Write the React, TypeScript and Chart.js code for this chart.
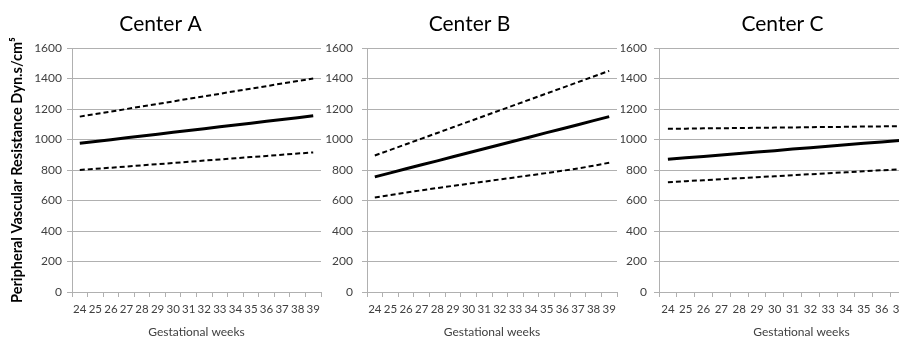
import React, { useEffect, useRef } from 'react';
import { Chart, registerables } from 'chart.js';

Chart.register(...registerables);

const weeks = ['24', '25', '26', '27', '28', '29', '30', '31', '32', '33', '34', '35', '36', '37', '38', '39'];
const yTicks = [0, 200, 400, 600, 800, 1000, 1200, 1400, 1600];

const centerAMean = [975, 987, 999, 1011, 1023, 1035, 1047, 1059, 1071, 1083, 1095, 1107, 1119, 1131, 1143, 1155];
const centerAUpper = [1150, 1167, 1183, 1200, 1217, 1233, 1250, 1267, 1283, 1300, 1317, 1333, 1350, 1367, 1383, 1400];
const centerALower = [800, 808, 815, 823, 831, 838, 846, 854, 862, 869, 877, 885, 892, 900, 908, 915];

const centerBMean = [755, 781, 808, 834, 860, 887, 913, 939, 966, 992, 1018, 1045, 1071, 1097, 1124, 1150];
const centerBUpper = [895, 932, 969, 1006, 1043, 1080, 1117, 1154, 1191, 1228, 1265, 1302, 1339, 1376, 1413, 1450];
const centerBLower = [620, 636, 652, 667, 682, 696, 710, 724, 738, 752, 766, 780, 795, 810, 828, 848];

const centerCMean = [870, 880, 889, 899, 908, 918, 927, 937, 946, 956, 965, 975, 984, 994, 1003, 1013];
const centerCUpper = [1070, 1071, 1073, 1074, 1075, 1077, 1078, 1079, 1081, 1082, 1083, 1085, 1086, 1087, 1089, 1090];
const centerCLower = [720, 727, 733, 740, 746, 753, 759, 766, 772, 779, 785, 792, 798, 805, 811, 818];

const FONT = 'Lato, "Open Sans", "Noto Sans", sans-serif';
const GRID = '#b0b0b0';

type PanelProps = {
  title: string;
  mean: number[];
  upper: number[];
  lower: number[];
  left: number;
  width: number;
  yWidth: number;
  rightPad: number;
  yLabelPad: number;
  yTitle?: string;
};

function Panel(p: PanelProps) {
  const ref = useRef<HTMLCanvasElement | null>(null);
  useEffect(() => {
    if (!ref.current) return;
    const dashed = { borderColor: '#000', borderWidth: 2, borderDash: [5, 3], pointRadius: 0, fill: false, tension: 0 };
    const chart = new Chart(ref.current, {
      type: 'line',
      data: {
        labels: weeks,
        datasets: [
          { label: 'upper', data: p.upper, ...dashed },
          { label: 'mean', data: p.mean, borderColor: '#000', borderWidth: 3, pointRadius: 0, fill: false, tension: 0 },
          { label: 'lower', data: p.lower, ...dashed },
        ],
      },
      options: {
        animation: false,
        responsive: false,
        layout: { padding: { left: 0, right: p.rightPad, top: 0, bottom: 0 } },
        plugins: {
          legend: { display: false },
          tooltip: { enabled: false },
          title: {
            display: true,
            text: p.title,
            color: '#000',
            font: { family: FONT, size: 21, weight: 'normal', lineHeight: 1.2 },
            padding: { top: 11.4, bottom: 11.4 },
          },
        },
        scales: {
          x: {
            type: 'category',
            offset: true,
            grid: { display: true, drawOnChartArea: false, drawTicks: true, tickLength: 5, offset: true, color: GRID },
            border: { display: true, color: GRID, width: 1 },
            ticks: {
              autoSkip: false,
              maxRotation: 0,
              minRotation: 0,
              padding: 5,
              color: '#404040',
              font: { family: FONT, size: 11.5 },
            },
            title: {
              display: true,
              text: 'Gestational weeks',
              color: '#404040',
              font: { family: FONT, size: 12, lineHeight: 1 },
              padding: { top: 0, bottom: 0 },
            },
            afterFit: (s: any) => { s.height = 46; },
          },
          y: {
            min: 0,
            max: 1600,
            afterBuildTicks: (s: any) => { s.ticks = yTicks.map((v) => ({ value: v })); },
            grid: { color: GRID, tickLength: 5, drawTicks: true },
            border: { display: true, color: GRID, width: 1 },
            ticks: {
              padding: p.yLabelPad,
              color: '#404040',
              font: { family: FONT, size: 12 },
              callback: (v: any) => String(v),
            },
            title: {
              display: !!p.yTitle,
              text: p.yTitle || '',
              color: '#000',
              font: { family: FONT, size: 14.5, weight: 'bold', lineHeight: 1.2 },
              padding: { top: 9, bottom: 0 },
            },
            afterFit: (s: any) => { s.width = p.yWidth; },
          },
        },
      },
    } as any);
    return () => chart.destroy();
  }, []);
  return (
    <canvas
      ref={ref}
      width={p.width}
      height={338}
      style={{ position: 'absolute', left: p.left, top: 0, width: p.width, height: 338, display: 'block' }}
    />
  );
}

export default function App() {
  return (
    <div style={{ position: 'fixed', left: 0, top: 0, width: 899, height: 338, overflow: 'hidden', background: '#fff' }}>
      <Panel title="Center A" mean={centerAMean} upper={centerAUpper} lower={centerALower}
        left={0} width={366} yWidth={72} rightPad={45} yLabelPad={5}
        yTitle="Peripheral Vascular Resistance Dyn.s/cm⁵" />
      <Panel title="Center B" mean={centerBMean} upper={centerBUpper} lower={centerBLower}
        left={322} width={322} yWidth={45} rightPad={27} yLabelPad={9} />
      <Panel title="Center C" mean={centerCMean} upper={centerCUpper} lower={centerCLower}
        left={621} width={326} yWidth={38} rightPad={3} yLabelPad={7} />
    </div>
  );
}
